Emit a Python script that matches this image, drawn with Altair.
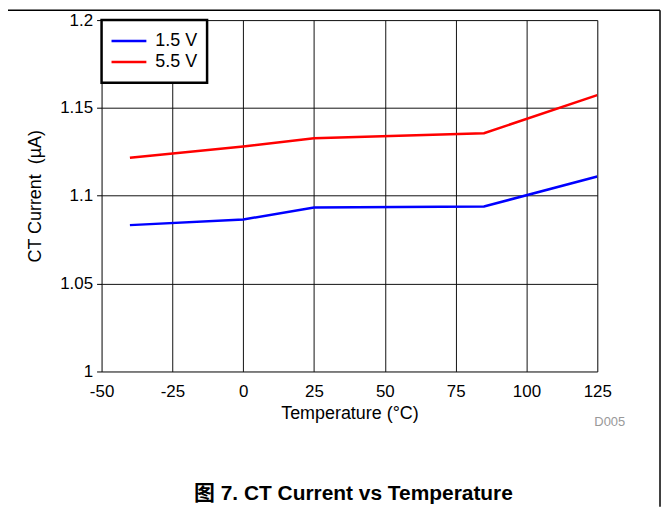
import altair as alt
import pandas as pd

# ---- data ----
series = ["1.5 V", "5.5 V"]
colors = ["#0000FF", "#FF0000"]
temps = [-40, 0, 25, 85, 125]
cur_15 = [1.0833, 1.0865, 1.0933, 1.0939, 1.111]
cur_55 = [1.1216, 1.1280, 1.1327, 1.1356, 1.1573]
x_ticks = [-50, -25, 0, 25, 50, 75, 100, 125]
y_ticks = [1.0, 1.05, 1.1, 1.15, 1.2]
fig_title = "图 7. CT Current vs Temperature"
fig_code = "D005"
y_title = "CT Current \u00a0(µA)"

FONT = "Liberation Sans, Arial, Noto Sans CJK SC"
W, H = 498, 353

rows = []
for t, a, b in zip(temps, cur_15, cur_55):
    rows.append({"temp": t, "cur": a, "series": series[0]})
    rows.append({"temp": t, "cur": b, "series": series[1]})
df = pd.DataFrame(rows)

color_scale = alt.Scale(domain=series, range=colors)

lines = alt.Chart(df).mark_line(strokeWidth=2.5, clip=True).encode(
    x=alt.X("temp:Q",
            scale=alt.Scale(domain=[-50, 125], nice=False, zero=False),
            axis=alt.Axis(values=x_ticks, title="Temperature (°C)",
                          grid=True, gridColor="#111", gridWidth=1,
                          ticks=False, domain=False, labelFlush=False,
                          labelFontSize=17, labelPadding=12, labelColor="black",
                          labelExpr="datum.value < 0 ? '-' + abs(datum.value) : '' + datum.value",
                          titleFontSize=18, titleFontWeight="normal", titleColor="black",
                          titleY=47, titleBaseline="alphabetic")),
    y=alt.Y("cur:Q",
            scale=alt.Scale(domain=[1.0, 1.2], nice=False, zero=False),
            axis=alt.Axis(values=y_ticks, title=y_title,
                          grid=True, gridColor="#111", gridWidth=1,
                          ticks=True, tickSize=5, tickColor="black", domain=False,
                          labelFlush=False,
                          labelFontSize=17, labelPadding=4, labelColor="black",
                          labelExpr="'' + datum.value",
                          titleFontSize=18, titleFontWeight="normal", titleColor="black",
                          titleX=-61, titleBaseline="alphabetic")),
    color=alt.Color("series:N", scale=color_scale, legend=None),
)

# ---- manual legend (inside top-left) ----
leg_df = pd.DataFrame({"series": series, "idx": list(range(len(series)))})
one = pd.DataFrame({"k": [0]})

leg_box = alt.Chart(one).mark_rect(fill="white", stroke="black", strokeWidth=2.5).encode(
    x=alt.value(0), x2=alt.value(106), y=alt.value(0), y2=alt.value(63)
)
leg_base = alt.Chart(leg_df).transform_calculate(ly="21 + 21 * datum.idx")
leg_sym = leg_base.mark_rule(strokeWidth=2.5).encode(
    x=alt.value(10), x2=alt.value(45),
    y=alt.Y("ly:Q", scale=None),
    color=alt.Color("series:N", scale=color_scale, legend=None),
)
leg_txt = leg_base.mark_text(align="left", baseline="middle", fontSize=18,
                             font=FONT, color="black").encode(
    x=alt.value(54), y=alt.Y("ly:Q", scale=None), text="series:N"
)

# ---- figure texts and frame ----
title_df = pd.DataFrame({"t": [fig_title]})
code_df = pd.DataFrame({"t": [fig_code]})
title_txt = alt.Chart(title_df).mark_text(align="center", baseline="middle", fontSize=21,
                                          fontWeight="bold", font=FONT, color="black").encode(
    x=alt.value(253), y=alt.value(476), text="t:N"
)
code_txt = alt.Chart(code_df).mark_text(align="left", baseline="middle", fontSize=13,
                                        font=FONT, color="#999999").encode(
    x=alt.value(495), y=alt.value(404), text="t:N"
)
top_rule = alt.Chart(one).mark_rule(color="black", strokeWidth=1.5).encode(
    x=alt.value(-94), x2=alt.value(561), y=alt.value(-10)
)
right_rule = alt.Chart(one).mark_rule(color="black", strokeWidth=1.5).encode(
    x=alt.value(561), y=alt.value(-10), y2=alt.value(489)
)

chart = alt.layer(
    lines, leg_box, leg_sym, leg_txt, title_txt, code_txt, top_rule, right_rule
).properties(
    width=W, height=H,
    autosize=alt.AutoSizeParams(type="none"),
    padding={"left": 94, "top": 11, "right": 64, "bottom": 136},
).configure_view(
    stroke="black", strokeWidth=3
).configure(
    font=FONT
)

chart.save("out.html", embed_options={"renderer": "svg", "actions": False})
